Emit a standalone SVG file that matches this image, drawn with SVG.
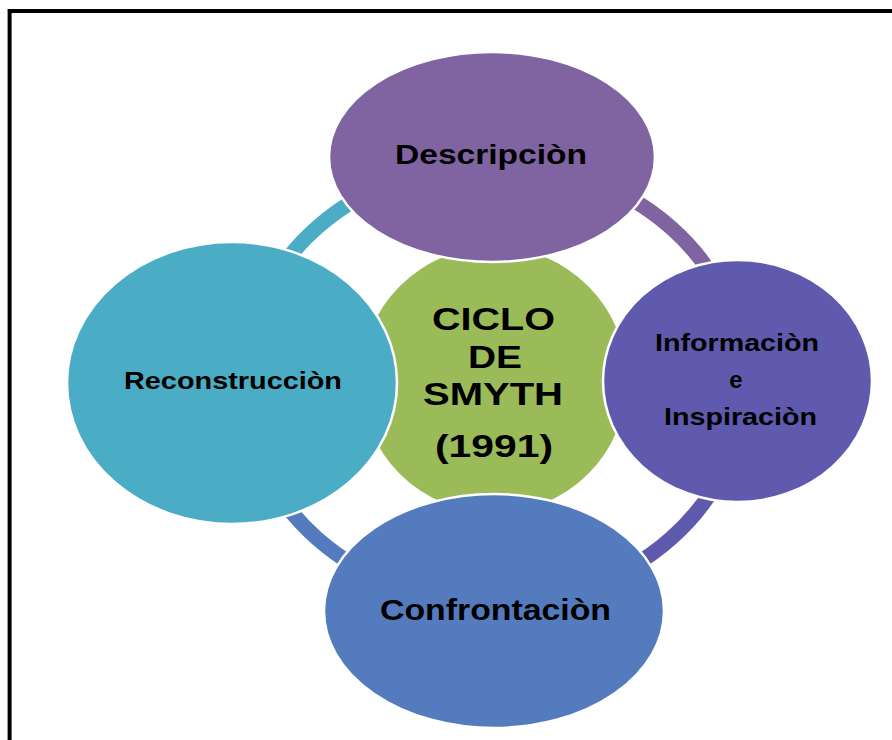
<svg xmlns="http://www.w3.org/2000/svg" width="892" height="740" viewBox="0 0 892 740">
<style>
.lbl{font-family:"Liberation Sans",Arial,sans-serif;font-weight:bold;fill:#000;text-anchor:middle}
.node{stroke:#fff;stroke-width:2.5}
.arc{fill:none;stroke-width:15}
</style>
<rect width="892" height="740" fill="#fff"/>
<path d="M9.6 740 V11 H892" fill="none" stroke="#000" stroke-width="4"/>
<g id="connectors">
<path class="arc" stroke="#4BACC6" d="M244 383 A250 220 0 0 1 494 163"/>
<path class="arc" stroke="#8064A2" d="M494 163 A250 220 0 0 1 744 383"/>
<path class="arc" stroke="#5F5AAD" d="M744 383 A250 220 0 0 1 494 603"/>
<path class="arc" stroke="#537BBD" d="M494 603 A250 220 0 0 1 244 383"/>
</g>
<g id="center">
<circle cx="494" cy="380" r="133" fill="#9BBB59"/>
<text class="lbl" x="493.5" y="330" font-size="32" textLength="123" lengthAdjust="spacingAndGlyphs">CICLO</text>
<text class="lbl" x="495" y="368" font-size="32" textLength="54" lengthAdjust="spacingAndGlyphs">DE</text>
<text class="lbl" x="493" y="405" font-size="32" textLength="140" lengthAdjust="spacingAndGlyphs">SMYTH</text>
<text class="lbl" x="494" y="457" font-size="32" textLength="118" lengthAdjust="spacingAndGlyphs">(1991)</text>
</g>
<g id="descripcion">
<ellipse class="node" cx="492" cy="157" rx="163" ry="105" fill="#8064A2"/>
<text class="lbl" x="491" y="164" font-size="28" textLength="192" lengthAdjust="spacingAndGlyphs">Descripciòn</text>
</g>
<g id="reconstruccion">
<ellipse class="node" cx="232" cy="383" rx="165" ry="141" fill="#4BACC6"/>
<text class="lbl" x="233" y="389" font-size="24" textLength="218" lengthAdjust="spacingAndGlyphs">Reconstrucciòn</text>
</g>
<g id="informacion">
<ellipse class="node" cx="737.5" cy="381" rx="134.5" ry="121" fill="#5F5AAD"/>
<text class="lbl" x="737" y="351" font-size="24" textLength="164" lengthAdjust="spacingAndGlyphs">Informaciòn</text>
<text class="lbl" x="736" y="388" font-size="24">e</text>
<text class="lbl" x="740.5" y="425" font-size="24" textLength="153" lengthAdjust="spacingAndGlyphs">Inspiraciòn</text>
</g>
<g id="confrontacion">
<ellipse class="node" cx="494" cy="611" rx="170" ry="117" fill="#537BBD"/>
<text class="lbl" x="495.5" y="620" font-size="29" textLength="231" lengthAdjust="spacingAndGlyphs">Confrontaciòn</text>
</g>
</svg>
